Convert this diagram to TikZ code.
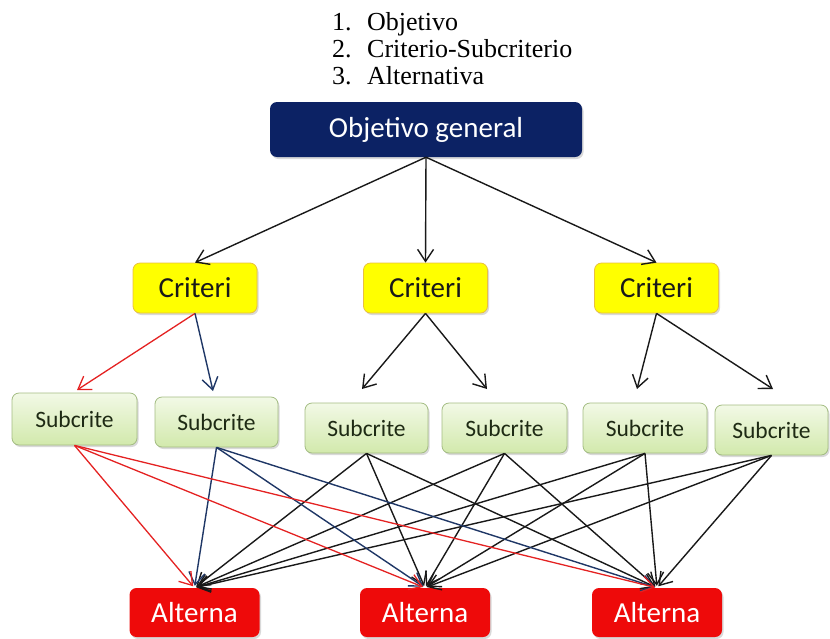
\documentclass[tikz,border=0pt]{standalone}
\usepackage{fontspec}
\setmainfont{Liberation Serif}
\newfontfamily\boxfont{Carlito}
\usetikzlibrary{arrows.meta,shadows}

\definecolor{navyfill}{HTML}{0C2264}
\definecolor{critfill}{HTML}{FFFF00}
\definecolor{critline}{HTML}{E8C040}
\definecolor{subtop}{HTML}{F2F9E6}
\definecolor{subbot}{HTML}{D2E9AC}
\definecolor{subline}{HTML}{A3BC82}
\definecolor{subtext}{HTML}{1E2A14}
\definecolor{altfill}{HTML}{EE0A0A}
\definecolor{linkred}{HTML}{E42222}
\definecolor{linknavy}{HTML}{1F3766}

\begin{document}
\begin{tikzpicture}[x=1pt,y=-1pt,
  softshadow/.style={drop shadow={shadow xshift=1.5pt,shadow yshift=-2pt,opacity=0.25,fill=black!60}},
  box/.style={rounded corners=7pt,inner sep=0pt,align=center,softshadow},
  goalbox/.style={box,fill=navyfill,text=white,minimum width=312pt,minimum height=55pt,
    font=\boxfont\fontsize{29}{33}\selectfont},
  critbox/.style={box,fill=critfill,draw=critline,line width=0.8pt,text=black!90,
    minimum width=124pt,minimum height=50pt,font=\boxfont\fontsize{29}{33}\selectfont},
  subbox/.style={box,top color=subtop,bottom color=subbot,draw=subline,line width=0.8pt,
    text=subtext,minimum height=50pt,font=\boxfont\fontsize{23.5}{27}\selectfont},
  altbox/.style={box,fill=altfill,text=white,minimum width=130pt,minimum height=49pt,
    font=\boxfont\fontsize{29}{33}\selectfont},
  listtext/.style={anchor=base west,inner sep=0pt,font=\fontsize{26}{27}\selectfont},
  link/.style={-{Straight Barb[length=12pt,width=16pt]},line width=1.4pt,black!90},
  redlink/.style={link,linkred,line width=1.3pt},
  navylink/.style={link,linknavy},
]
\useasboundingbox (0,0) rectangle (830,638);

% numbered legend
\node[listtext] (n1) at (332,30) {1.};
\node[listtext] (t1) at (367,30) {Objetivo};
\node[listtext] (n2) at (332,57) {2.};
\node[listtext] (t2) at (367,57) {Criterio-Subcriterio};
\node[listtext] (n3) at (332,84) {3.};
\node[listtext] (t3) at (367,84) {Alternativa};

% goal
\node[goalbox] (goal) at (426,129.5) {Objetivo general};

% criteria
\node[critbox] (c1) at (195,288) {Criteri};
\node[critbox] (c2) at (425.5,288) {Criteri};
\node[critbox] (c3) at (656.5,288) {Criteri};

% sub-criteria
\node[subbox,minimum width=125pt,minimum height=52pt] (s1) at (74.5,419) {Subcrite};
\node[subbox,minimum width=123pt] (s2) at (216.5,422) {Subcrite};
\node[subbox,minimum width=123pt] (s3) at (366.5,428) {Subcrite};
\node[subbox,minimum width=125pt] (s4) at (504.5,428) {Subcrite};
\node[subbox,minimum width=124pt] (s5) at (645,428) {Subcrite};
\node[subbox,minimum width=113pt] (s6) at (771.5,430) {Subcrite};

% alternatives
\node[altbox] (a1) at (194.5,612.5) {Alterna};
\node[altbox] (a2) at (425,612.5) {Alterna};
\node[altbox] (a3) at (657,612.5) {Alterna};

% arrow tips above the sub-criteria
\coordinate (h1) at (77,390);
\coordinate (h2) at (213,391);
\coordinate (h3) at (362,389);
\coordinate (h4) at (487,389);
\coordinate (h5) at (637,389);
\coordinate (h6) at (773,389);

% goal to criteria
\draw[link] (goal.south) -- (c1.north);
\draw[link] (goal.south) -- (c2.north);
\draw[link] (goal.south) -- (c3.north);

% criteria to sub-criteria
\draw[redlink] (c1.south) -- (h1);
\draw[navylink] (c1.south) -- (h2);
\draw[link] (c2.south) -- (h3);
\draw[link] (c2.south) -- (h4);
\draw[link] (c3.south) -- (h5);
\draw[link] (c3.south) -- (h6);

% sub-criteria to alternatives
\foreach \s in {s3,s4,s5,s6}{
  \foreach \a in {a1,a2,a3}{
    \draw[link,shorten >=2pt] (\s.south) -- (\a.north);
  }
}
\foreach \a in {a1,a2,a3}{
  \draw[navylink,shorten >=2pt] (s2.south) -- (\a.north);
}
\foreach \a in {a1,a2,a3}{
  \draw[redlink,shorten >=2pt] (s1.south) -- (\a.north);
}
\end{tikzpicture}
\end{document}
